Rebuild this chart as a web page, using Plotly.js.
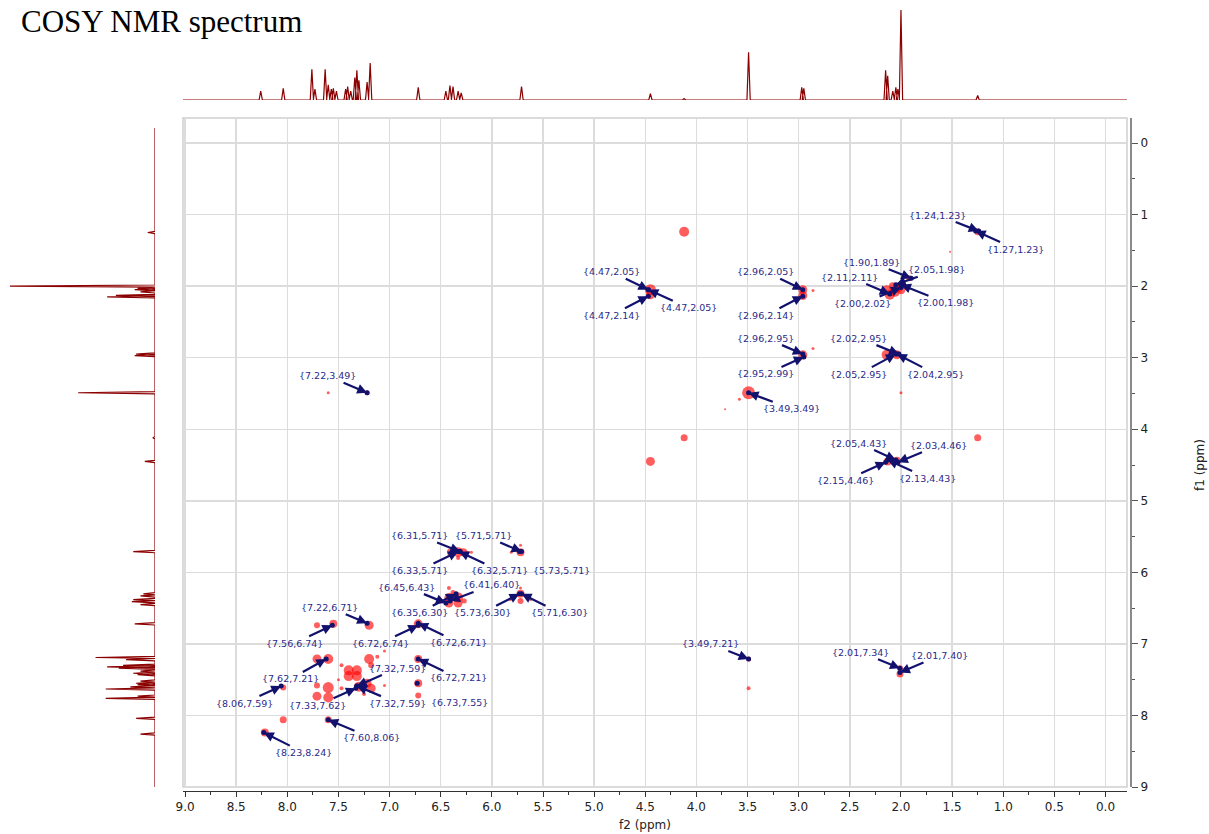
<!DOCTYPE html>
<html><head><meta charset="utf-8">
<script src="https://cdn.plot.ly/plotly-3.0.1.min.js"></script>
<style>html,body{margin:0;padding:0;background:#fff}#chart{width:1209px;height:834px}</style>
</head><body><div id="chart"></div>
<script>
// 1D proton spectrum peaks (ppm, relative intensity)
const peakPpm = [8.26, 8.04, 7.76, 7.73, 7.63, 7.60, 7.57, 7.55, 7.52, 7.43, 7.41, 7.38, 7.34, 7.32, 7.30, 7.22, 7.19, 6.72, 6.45, 6.41, 6.38, 6.33, 6.30, 5.71, 4.45, 4.12, 3.49, 2.97, 2.95, 2.15, 2.13, 2.08, 2.05, 2.03, 2.00, 1.25];
const peakInt = [0.10, 0.13, 0.34, 0.12, 0.34, 0.17, 0.12, 0.13, 0.10, 0.12, 0.15, 0.10, 0.25, 0.33, 0.22, 0.20, 0.41, 0.14, 0.10, 0.16, 0.15, 0.10, 0.08, 0.15, 0.07, 0.015, 0.53, 0.14, 0.13, 0.33, 0.27, 0.10, 0.14, 0.12, 1.00, 0.05];

// 2D cross-peak contours (f2, f1, size)
const blobF2 = [4.12, 1.25, 1.52, 4.45, 4.45, 2.96, 2.96, 2.86, 2.14, 2.11, 2.06, 2.03, 2.00, 1.99, 1.92, 2.08, 2.96, 2.86, 2.14, 2.04, 2.00, 3.49, 3.58, 3.72, 7.22, 7.60, 4.12, 1.25, 4.45, 2.13, 2.04, 2.08,
  6.40, 6.33, 6.28, 6.24, 6.20, 6.38, 6.33, 5.72, 5.81, 5.72,
  6.42, 6.33, 6.42, 6.33, 6.38, 6.27, 6.42, 5.72, 5.72, 5.82, 5.62, 5.72,
  6.72, 7.20, 7.55, 7.71,
  7.71, 7.60, 7.40, 7.32, 7.40, 7.32, 7.20, 7.18, 7.22, 7.30, 7.18, 7.60, 7.71, 7.60, 7.71, 7.47, 7.12, 7.05, 7.05, 7.47, 7.50, 7.25,
  6.72, 6.72, 6.72, 8.04, 8.04, 7.60, 8.22,
  3.49, 3.49, 2.01, 2.01];
const blobF1 = [1.24, 1.24, 1.52, 2.05, 2.12, 2.05, 2.13, 2.06, 2.05, 2.12, 2.08, 2.02, 2.05, 1.98, 1.89, 2.00, 2.96, 2.87, 2.96, 2.96, 3.49, 3.49, 3.58, 3.72, 3.49, 3.49, 4.12, 4.12, 4.45, 4.45, 4.44, 4.45,
  5.72, 5.72, 5.72, 5.72, 5.72, 5.66, 5.80, 5.72, 5.72, 5.62,
  6.35, 6.35, 6.43, 6.43, 6.28, 6.40, 6.22, 6.30, 6.40, 6.38, 6.38, 6.22,
  6.72, 6.74, 6.72, 6.74,
  7.21, 7.21, 7.37, 7.37, 7.45, 7.45, 7.21, 7.30, 7.55, 7.60, 7.62, 7.61, 7.73, 7.75, 7.58, 7.30, 7.18, 7.10, 7.58, 7.62, 7.50, 7.70,
  7.21, 7.55, 7.72, 7.61, 8.06, 8.06, 8.24,
  7.21, 7.62, 7.34, 7.42];
const blobSize = [10, 7, 2, 11, 9, 9, 9, 3, 9, 10, 10, 10, 9, 8, 6, 8, 9, 3, 10, 9, 3, 13, 3, 2, 5, 3, 7, 7, 9, 8, 8, 6,
  8, 10, 8, 3, 3, 3, 4, 8, 3, 3,
  9, 10, 9, 9, 5, 5, 4, 8, 6, 3, 3, 3,
  9, 9, 8, 6,
  9, 10, 10, 10, 10, 10, 10, 6, 9, 10, 9, 11, 9, 10, 6, 4, 4, 3, 3, 4, 3, 4,
  8, 8, 6, 6, 7, 7, 8,
  5, 4, 6, 7];

// peak labels {f2,f1} and label offsets (px)
const labelF2 = [1.24, 1.27, 4.47, 4.47, 4.47, 2.96, 2.96, 2.11, 1.90, 2.05, 2.00, 2.00, 2.96, 2.95, 2.02, 2.05, 2.04, 3.49, 7.22, 2.05, 2.03, 2.15, 2.13,
  6.31, 5.71, 6.33, 6.32, 5.73, 6.45, 6.41, 6.35, 5.73, 5.71, 7.22, 7.56, 6.72, 6.72, 7.62, 7.32, 6.72, 8.06, 7.33, 7.32, 6.73, 7.60, 8.23, 3.49, 2.01, 2.01];
const labelF1 = [1.23, 1.23, 2.05, 2.14, 2.05, 2.05, 2.14, 2.11, 1.89, 1.98, 2.02, 1.98, 2.95, 2.99, 2.95, 2.95, 2.95, 3.49, 3.49, 4.43, 4.46, 4.46, 4.43,
  5.71, 5.71, 5.71, 5.71, 5.71, 6.43, 6.40, 6.30, 6.30, 6.30, 6.71, 6.74, 6.74, 6.71, 7.21, 7.59, 7.21, 7.59, 7.62, 7.59, 7.55, 8.06, 8.24, 7.21, 7.34, 7.40];
const labelDx = [-41, 40, -37, -37, 40, -37, -37, -40, -40, 41, -38, 45, -37, -38, -40, -37, 39, 43, -40, -37, 41, -40, 40,
  -41, -38, -39, 40, 42, -39, 42, -37, -37, 38, -38, -38, -38, 40, -36, 41, 40, -37, -38, 41, 42, 43, 40, -38, -39, 40];
const labelDy = [-16, 18, -18, 19, 18, -18, 19, -17, -16, -15, 16, 18, -16, 17, -16, 20, 20, 16, -17, -17, -17, 18, 18,
  -16, -16, 19, 19, 19, -16, -16, 19, 19, 19, -16, 18, 18, 19, 20, -18, 19, 17, 17, 17, 19, 18, 20, -15, -16, -17];

const chartTitle = 'COSY NMR spectrum';
const xTitle = 'f2 (ppm)';
const yTitle = 'f1 (ppm)';

// ---- build 1D trace line from the peak list ----
const HW = 0.016;
const order = peakPpm.map((p, i) => i).sort((a, b) => peakPpm[b] - peakPpm[a]);
const linePpm = [9.02], lineInt = [0];
order.forEach(i => {
  linePpm.push(peakPpm[i] + HW, peakPpm[i], peakPpm[i] - HW);
  lineInt.push(0, peakInt[i], 0);
});
linePpm.push(-0.21); lineInt.push(0);

const W = 1209, H = 834;
const fx = px => px / W;
const fy = py => 1 - py / H;
const X0 = 183, X1 = 1127, Y0 = 118, Y1 = 787;
const xRange = [9.02, -0.21];
const yRange = [9.0, -0.35];
const navy = '#12126e';
const specColor = '#8b0000';

const traces = [
  {type: 'scatter', mode: 'markers', x: blobF2, y: blobF1, xaxis: 'x', yaxis: 'y',
    marker: {size: blobSize, color: 'rgba(255,0,0,0.9)', line: {width: 0}}, hoverinfo: 'skip'},
  {type: 'scatter', mode: 'markers', x: labelF2, y: labelF1, xaxis: 'x', yaxis: 'y',
    marker: {size: 5, color: navy, line: {width: 0}}, hoverinfo: 'skip'},
  {type: 'scatter', mode: 'lines', x: linePpm, y: lineInt, xaxis: 'x2', yaxis: 'y2',
    line: {color: specColor, width: 1.2}, hoverinfo: 'skip'},
  {type: 'scatter', mode: 'lines', x: lineInt, y: linePpm, xaxis: 'x3', yaxis: 'y3',
    line: {color: specColor, width: 1.2}, hoverinfo: 'skip'}
];

const tickFont = {family: 'DejaVu Sans, sans-serif', size: 12, color: '#222'};
const annotations = labelF2.map((f2, i) => ({
  xref: 'x', yref: 'y', x: f2, y: labelF1[i], ax: labelDx[i], ay: labelDy[i],
  text: '{' + f2.toFixed(2) + ',' + labelF1[i].toFixed(2) + '}',
  showarrow: true, arrowhead: 2, arrowsize: 0.9, arrowwidth: 2.2, arrowcolor: navy,
  font: {family: 'DejaVu Sans, sans-serif', size: 9.5, color: '#2a2a8a'}
}));
annotations.push(
  {xref: 'paper', yref: 'paper', x: fx(19), y: fy(22), xanchor: 'left', yanchor: 'middle', showarrow: false,
    text: chartTitle, font: {family: 'Liberation Serif, Times New Roman, serif', size: 31, color: '#000'}},
  {xref: 'paper', yref: 'paper', x: fx(645), y: fy(825), xanchor: 'center', yanchor: 'middle', showarrow: false,
    text: xTitle, font: {family: 'DejaVu Sans, sans-serif', size: 12, color: '#222'}},
  {xref: 'paper', yref: 'paper', x: fx(1200), y: fy(465), xanchor: 'center', yanchor: 'middle', showarrow: false,
    textangle: -90, text: yTitle, font: {family: 'DejaVu Sans, sans-serif', size: 12, color: '#222'}}
);

const layout = {
  width: W, height: H, margin: {l: 0, r: 0, t: 0, b: 0},
  paper_bgcolor: '#fff', plot_bgcolor: '#fff', showlegend: false,
  xaxis: {domain: [fx(X0), fx(X1)], range: xRange, anchor: 'free', position: fy(791),
    showline: true, linecolor: '#333', linewidth: 1, ticks: 'outside', ticklen: 5, tickcolor: '#333',
    tick0: 0, dtick: 0.5, tickformat: '.1f', tickfont: tickFont,
    showgrid: true, gridcolor: '#dcdcdc', gridwidth: 1.5, zeroline: false,
    minor: {ticks: 'outside', ticklen: 3, dtick: 0.25, tickcolor: '#333', showgrid: false}},
  yaxis: {domain: [fy(Y1), fy(Y0)], range: yRange, side: 'right', anchor: 'free', position: fx(1131),
    showline: true, linecolor: '#8a8a8a', linewidth: 2, ticks: 'outside', ticklen: 6, tickcolor: '#555',
    tick0: 0, dtick: 1, tickfont: tickFont,
    showgrid: true, gridcolor: '#dcdcdc', gridwidth: 1.5, zeroline: false,
    minor: {ticks: 'outside', ticklen: 3, dtick: 0.5, tickcolor: '#555', showgrid: false}},
  xaxis2: {domain: [fx(X0), fx(X1)], range: xRange, anchor: 'y2', visible: false},
  yaxis2: {domain: [fy(100), fy(10)], range: [0, 1], anchor: 'x2', visible: false},
  xaxis3: {domain: [fx(10), fx(155)], range: [1, 0], anchor: 'y3', visible: false},
  yaxis3: {domain: [fy(Y1), fy(Y0)], range: yRange, anchor: 'x3', visible: false},
  shapes: [{type: 'rect', xref: 'x domain', yref: 'y domain', x0: 0, x1: 1, y0: 0, y1: 1,
    line: {color: '#cfcfcf', width: 1.5}, layer: 'below'}],
  annotations: annotations
};

Plotly.newPlot('chart', traces, layout, {displayModeBar: false, staticPlot: true});
</script></body></html>
